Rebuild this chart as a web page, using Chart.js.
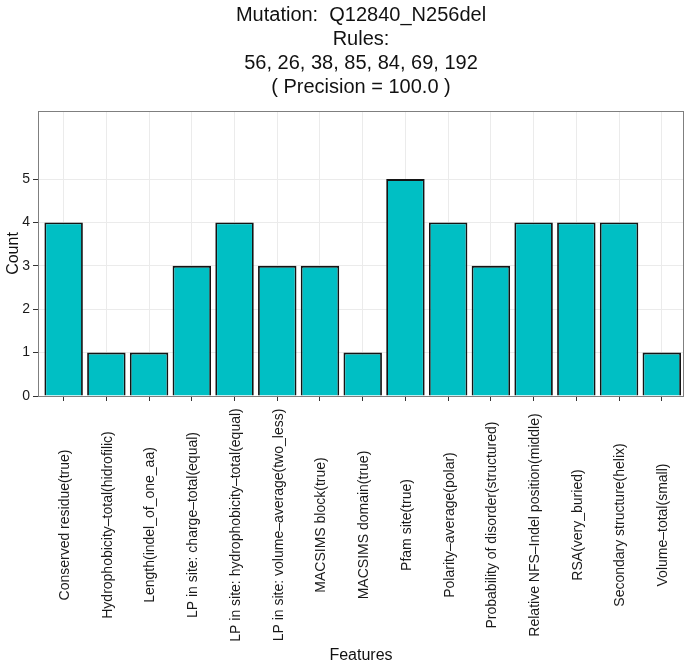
<!DOCTYPE html>
<html>
<head>
<meta charset="utf-8">
<script src="https://cdn.jsdelivr.net/npm/chart.js@4"></script>
<style>
  body { margin: 0; background: #fff; }
  canvas { display: block; }
</style>
</head>
<body>
<canvas id="myChart" width="685" height="665"></canvas>
<script>
// features (x categories) and their counts
const features = [
  'Conserved residue(true)',
  'Hydrophobicity\u2013total(hidrofilic)',
  'Length(indel_of_one_aa)',
  'LP in site: charge\u2013total(equal)',
  'LP in site: hydrophobicity\u2013total(equal)',
  'LP in site: volume\u2013average(two_less)',
  'MACSIMS block(true)',
  'MACSIMS domain(true)',
  'Pfam site(true)',
  'Polarity\u2013average(polar)',
  'Probability of disorder(structured)',
  'Relative NFS\u2013Indel position(middle)',
  'RSA(very_buried)',
  'Secondary structure(helix)',
  'Volume\u2013total(small)'
];
const counts = [4, 1, 1, 3, 4, 3, 3, 1, 5, 4, 3, 4, 4, 4, 1];
const yTicks = [0, 1, 2, 3, 4, 5];
const titleLines = [
  'Mutation:  Q12840_N256del',
  'Rules:',
  '56, 26, 38, 85, 84, 69, 192',
  '( Precision = 100.0 )'
];

const FONT = '"Liberation Sans", Arial, Helvetica, sans-serif';

// draws the rotated x labels centred, plus the grey panel border
const panelPlugin = {
  id: 'panel',
  afterDraw(chart) {
    const ctx = chart.ctx;
    const area = chart.chartArea;
    const xs = chart.scales.x;
    ctx.save();
    ctx.strokeStyle = '#7f7f7f';
    ctx.lineWidth = 1;
    ctx.strokeRect(area.left + 0.5, area.top + 0.5, area.right - area.left - 1, area.bottom - area.top);
    ctx.fillStyle = '#1a1a1a';
    ctx.font = '14px ' + FONT;
    ctx.textAlign = 'center';
    ctx.textBaseline = 'middle';
    features.forEach((f, i) => {
      const x = xs.getPixelForValue(i + 1);
      ctx.save();
      ctx.translate(x + 1.5, 525);
      ctx.rotate(-Math.PI / 2);
      ctx.fillText(f, 0, 0);
      ctx.restore();
    });
    ctx.restore();
  }
};

let plot = () => {
  const ctx = document.getElementById('myChart');
  const dataset = {
    datasets: [{
      data: counts.map((c, i) => ({ x: i + 1, y: c })),
      backgroundColor: '#00BFC4',
      borderColor: '#141414',
      borderWidth: 1.8,
      categoryPercentage: 0.9,
      barPercentage: 1.0
    }]
  };

  const config = {
    type: 'bar',
    data: dataset,
    options: {
      responsive: false,
      animation: false,
      layout: { padding: { right: 1 } },
      plugins: {
        legend: { display: false },
        tooltip: { enabled: false },
        title: {
          display: true,
          fullSize: false,
          text: titleLines,
          color: '#111',
          font: { family: FONT, size: 20, weight: 'normal', lineHeight: 1.2 },
          padding: { top: 3, bottom: 12 }
        }
      },
      scales: {
        x: {
          type: 'linear',
          offset: false,
          min: 0.4,
          max: 15.52,
          afterBuildTicks: (s) => { s.ticks = features.map((f, i) => ({ value: i + 1 })); },
          afterFit: (s) => { s.height = 269; },
          ticks: { display: false },
          grid: { offset: false, color: '#ebebeb', tickColor: '#333', tickLength: 5, lineWidth: 1 },
          border: { display: false },
          title: {
            display: true,
            text: 'Features',
            color: '#111',
            font: { family: FONT, size: 16 },
            padding: { top: 0, bottom: 0 }
          }
        },
        y: {
          min: 0,
          max: 6.57,
          afterBuildTicks: (s) => { s.ticks = yTicks.map(v => ({ value: v })); },
          afterFit: (s) => { s.width = 38; },
          ticks: { color: '#1a1a1a', font: { family: FONT, size: 14 }, padding: 3 },
          grid: { color: '#ebebeb', tickColor: '#333', tickLength: 5, lineWidth: 1 },
          border: { display: false },
          title: {
            display: true,
            text: 'Count',
            color: '#111',
            font: { family: FONT, size: 16 },
            padding: { top: 4, bottom: 0 }
          }
        }
      }
    },
    plugins: [panelPlugin]
  };
  const chart = new Chart(ctx, config);
};

plot();
</script>
</body>
</html>
